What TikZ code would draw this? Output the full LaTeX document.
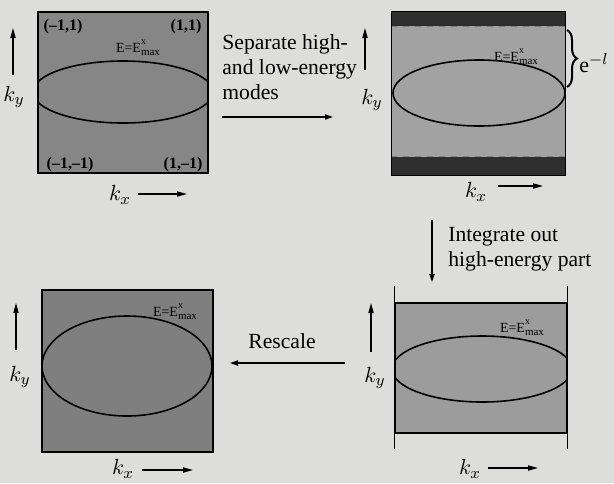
\documentclass[tikz,border=0pt]{standalone}
\usepackage{fontspec}
\setmainfont{Liberation Serif}
\usetikzlibrary{positioning,arrows.meta,decorations.pathreplacing}
\definecolor{paper}{HTML}{DDDDDB}
\definecolor{zoneA}{HTML}{868686}
\definecolor{zoneB}{HTML}{A2A2A2}
\definecolor{zoneC}{HTML}{9C9C9C}
\definecolor{zoneD}{HTML}{7F7F7F}
\definecolor{band}{HTML}{2E2E2E}
\newcommand{\emax}{E=E\rlap{\raisebox{3.6pt}{\fontsize{5}{5}\selectfont x}}\raisebox{-1.8pt}{\fontsize{5.5}{5}\selectfont max}}

\begin{document}
\begin{tikzpicture}[x=0.5pt, y=-0.5pt,
  panel/.style={draw=black, line width=0.7pt, fill=#1, inner sep=0pt},
  curve/.style={line width=0.8pt},
  axis/.style={-{Triangle[length=5pt,width=2.6pt]}, line width=0.6pt},
  flow/.style={-{Triangle[length=4pt,width=2.6pt]}, line width=0.6pt},
  txt/.style={font=\fontsize{10.8}{12.5}\selectfont, align=left, inner sep=0pt},
  corner/.style={font=\fontsize{8}{8}\selectfont\bfseries, inner sep=0pt},
  elab/.style={font=\fontsize{7}{7}\selectfont, inner sep=0pt},
  klab/.style={font=\fontsize{11}{11}\selectfont, inner sep=0pt}]
\fill[paper] (0,0) rectangle (614,483);
\useasboundingbox (0,0) rectangle (614,483);

% full zone
\node[panel=zoneA, minimum width=85pt, minimum height=80.5pt] (p1) at (123,92.5) {};
\begin{scope}
  \clip (p1.south west) rectangle (p1.north east);
  \draw[curve] (123,92) ellipse [x radius=90, y radius=31];
\end{scope}
\node[corner] (c1) at (63,27) {(–1,1)};
\node[corner] (c2) at (186,27) {(1,1)};
\node[corner] (c3) at (70,165) {(–1,–1)};
\node[corner] (c4) at (183,165) {(1,–1)};
\node[elab] (e1) at (138,48) {\emax};

% split zone
\node[panel=zoneB, draw=none, minimum width=86.5pt, minimum height=81.5pt] (p2) at (478.5,93.5) {};
\fill[band] (p2.north west) rectangle ([yshift=-7.5pt]p2.north east);
\fill[band] (p2.south west) rectangle ([yshift=9.5pt]p2.south east);
\draw[dashed, gray, line width=0.5pt] ([yshift=-7.5pt]p2.north west) -- ([yshift=-7.5pt]p2.north east);
\draw[dashed, gray, line width=0.5pt] ([yshift=9.5pt]p2.south west) -- ([yshift=9.5pt]p2.south east);
\draw[line width=0.7pt] (p2.south west) rectangle (p2.north east);
\draw[curve] (479,93) ellipse [x radius=86, y radius=33];
\node[elab] (e2) at (516,57) {\emax};
\coordinate (br1) at (567,30);
\coordinate (br2) at (567,87);
\draw[decorate, decoration={brace, amplitude=5pt}, line width=1pt] (br1) -- (br2);
\node[klab, anchor=west] (scl) at (579,63) {e$^{-l}$};

% reduced zone
\node[panel=zoneC, minimum width=86pt, minimum height=65pt] (p3) at (481,368) {};
\draw[line width=0.7pt] ([yshift=8pt]p3.north west) -- ([yshift=-7.5pt]p3.south west);
\draw[line width=0.7pt] ([yshift=8pt]p3.north east) -- ([yshift=-7.5pt]p3.south east);
\begin{scope}
  \clip (p3.south west) rectangle (p3.north east);
  \draw[curve] (482,369) ellipse [x radius=90, y radius=33];
\end{scope}
\node[elab] (e3) at (522,328) {\emax};

% rescaled zone
\node[panel=zoneD, minimum width=85.5pt, minimum height=81pt] (p4) at (127.5,371) {};
\draw[curve] (127,366) ellipse [x radius=85, y radius=50];
\node[elab] (e4) at (175,312) {\emax};

% axes
\foreach \n/\x/\y in {1/14/97, 2/372/100, 3/375/378, 4/20/377}
  \node[klab] (ky\n) at (\x,\y) {$k_y$};
\foreach \n/\x/\y in {1/120/195, 2/476/192, 3/470/469, 4/123/469}
  \node[klab] (kx\n) at (\x,\y) {$k_x$};
\foreach \n/\x/\ya/\yb in {1/13/75/28, 2/365/70/28, 3/371/352/303, 4/16/350/303} {
  \coordinate (ay\n s) at (\x,\ya);
  \coordinate (ay\n e) at (\x,\yb);
  \draw[axis] (ay\n s) -- (ay\n e);
}
\foreach \n/\xa/\xb/\y in {1/138/187/194, 2/498/543/186, 3/488/538/468, 4/142/193/470} {
  \coordinate (ax\n s) at (\xa,\y);
  \coordinate (ax\n e) at (\xb,\y);
  \draw[axis] (ax\n s) -- (ax\n e);
}

% steps
\node[txt, anchor=west] (sep) at (222,67) {Separate high-\\and low-energy\\modes};
\node[txt, anchor=west] (intg) at (448,249) {Integrate out\\high-energy part};
\node[txt] (resc) at (282,341) {Rescale};
\coordinate (s1) at (222,117);
\coordinate (s2) at (333,117);
\coordinate (i1) at (432,220);
\coordinate (i2) at (432,282);
\coordinate (r1) at (345,363);
\coordinate (r2) at (230,363);
\foreach \a/\b in {s1/s2, i1/i2, r1/r2} \draw[flow] (\a) -- (\b);
\end{tikzpicture}
\end{document}
